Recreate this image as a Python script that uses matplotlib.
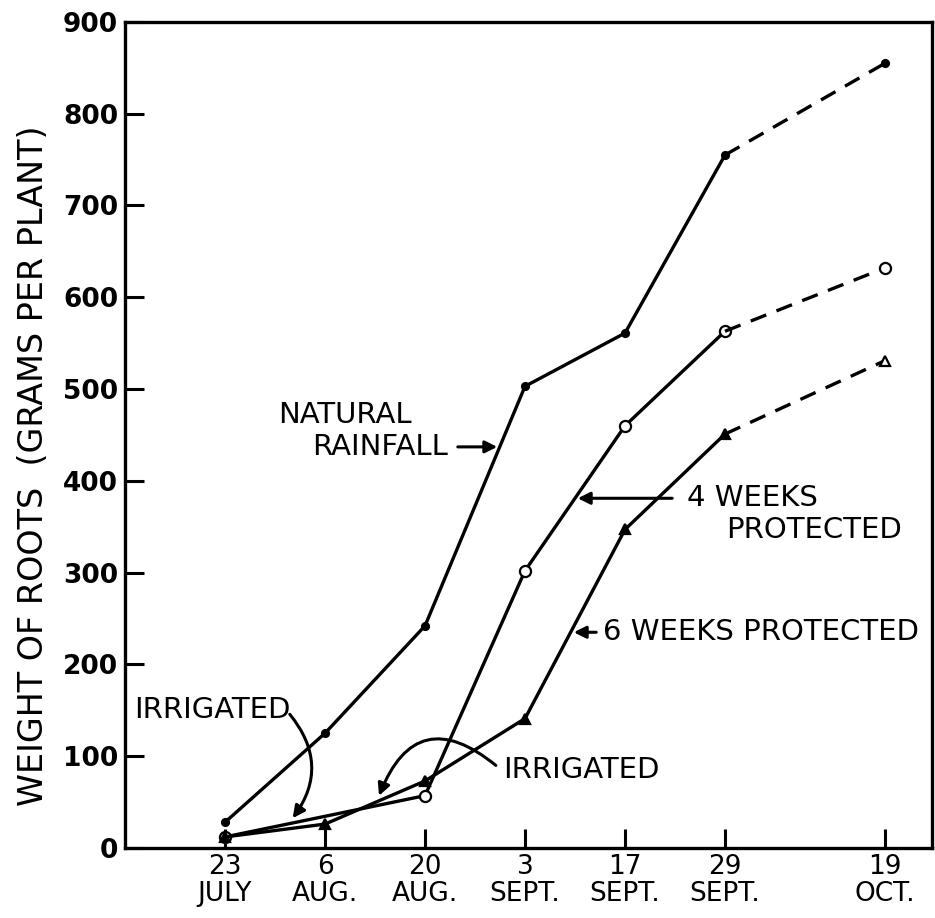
import numpy as np
import matplotlib
matplotlib.use("Agg")
import matplotlib.pyplot as plt

# sampling dates (two-line tick labels)
fechas = ["23\nJULY", "6\nAUG.", "20\nAUG.", "3\nSEPT.", "17\nSEPT.", "29\nSEPT.", "19\nOCT."]
posiciones = [0, 1, 2, 3, 4, 5, 6.6]

# weight of roots, grams per plant
lluvia_natural = [28, 125, 242, 503, 561, 755, 855]
protegido_4sem = [12, np.nan, 57, 302, 460, 563, 632]
protegido_6sem = [12, 26, 73, 141, 347, 451, 531]

plt.rcParams['font.family'] = ['DejaVu Sans']

fig = plt.figure(figsize=(9.35, 9.18), dpi=100)
ax = fig.add_axes([0.1337, 0.0763, 0.8631, 0.8998])

x = np.array(posiciones, dtype=float)
lw = 2.4


def serie(valores, marcador, relleno, tam, relleno_final=None):
    y = np.array(valores, dtype=float)
    ok = ~np.isnan(y)
    xs, ys = x[ok], y[ok]
    # solid up to 29 Sept, dashed to 19 Oct
    ax.plot(xs[:-1], ys[:-1], color='black', lw=lw, marker=marcador,
            ms=tam, mfc=relleno, mec='black', mew=1.6)
    ax.plot(xs[-2:], ys[-2:], color='black', lw=lw, dashes=(5, 3.3))
    ax.plot(xs[-1:], ys[-1:], ls='none', marker=marcador, ms=tam,
            mfc=relleno_final if relleno_final else relleno, mec='black', mew=1.6)


serie(lluvia_natural, 'o', 'black', 5)
serie(protegido_4sem, 'o', 'white', 8)
serie(protegido_6sem, '^', 'black', 6.5, relleno_final='white')

ax.set_xlim(-1.0, 7.07)
ax.set_ylim(0, 900)
ax.set_xticks(posiciones)
ax.set_xticklabels(fechas, fontsize=19, linespacing=1.05)
ax.set_yticks(np.arange(0, 901, 100))
ax.set_yticklabels([str(v) for v in range(0, 901, 100)], fontsize=19, fontweight='bold')
ax.tick_params(axis='both', direction='in', length=14, width=2.2)
ax.tick_params(axis='x', pad=4)
ax.tick_params(axis='y', pad=5)
for s in ax.spines.values():
    s.set_linewidth(2.4)

fig.text(0.036, 0.493, "WEIGHT OF ROOTS  (GRAMS PER PLANT)", rotation=90,
         ha='center', va='center', fontsize=24)

flecha = dict(arrowstyle='-|>', color='black', lw=2.2, mutation_scale=18)
txt = dict(fontsize=21, color='black', va='center')

# natural rainfall
ax.text(1.20, 472, "NATURAL", ha='center', **txt)
ax.text(1.55, 437, "RAINFALL", ha='center', **txt)
ax.annotate('', xy=(2.75, 437), xytext=(2.30, 437), arrowprops=flecha)

# 4 weeks protected
ax.text(4.62, 381, "4 WEEKS", ha='left', **txt)
ax.text(5.01, 346, "PROTECTED", ha='left', **txt)
ax.annotate('', xy=(3.50, 381), xytext=(4.50, 381), arrowprops=flecha)

# 6 weeks protected
ax.text(3.78, 235, "6 WEEKS PROTECTED", ha='left', clip_on=False, **txt)
ax.annotate('', xy=(3.46, 235), xytext=(3.74, 235), arrowprops=flecha)

# irrigated (left)
ax.text(-0.91, 150, "IRRIGATED", ha='left', **txt)
ax.annotate('', xy=(0.66, 30), xytext=(0.63, 148),
            arrowprops=dict(flecha, connectionstyle="arc3,rad=-0.4"))

# irrigated (right)
ax.text(2.78, 85, "IRRIGATED", ha='left', **txt)
ax.annotate('', xy=(1.53, 54), xytext=(2.73, 88),
            arrowprops=dict(flecha, connectionstyle="arc3,rad=0.7"))

fig.savefig("out.png", dpi=100)
